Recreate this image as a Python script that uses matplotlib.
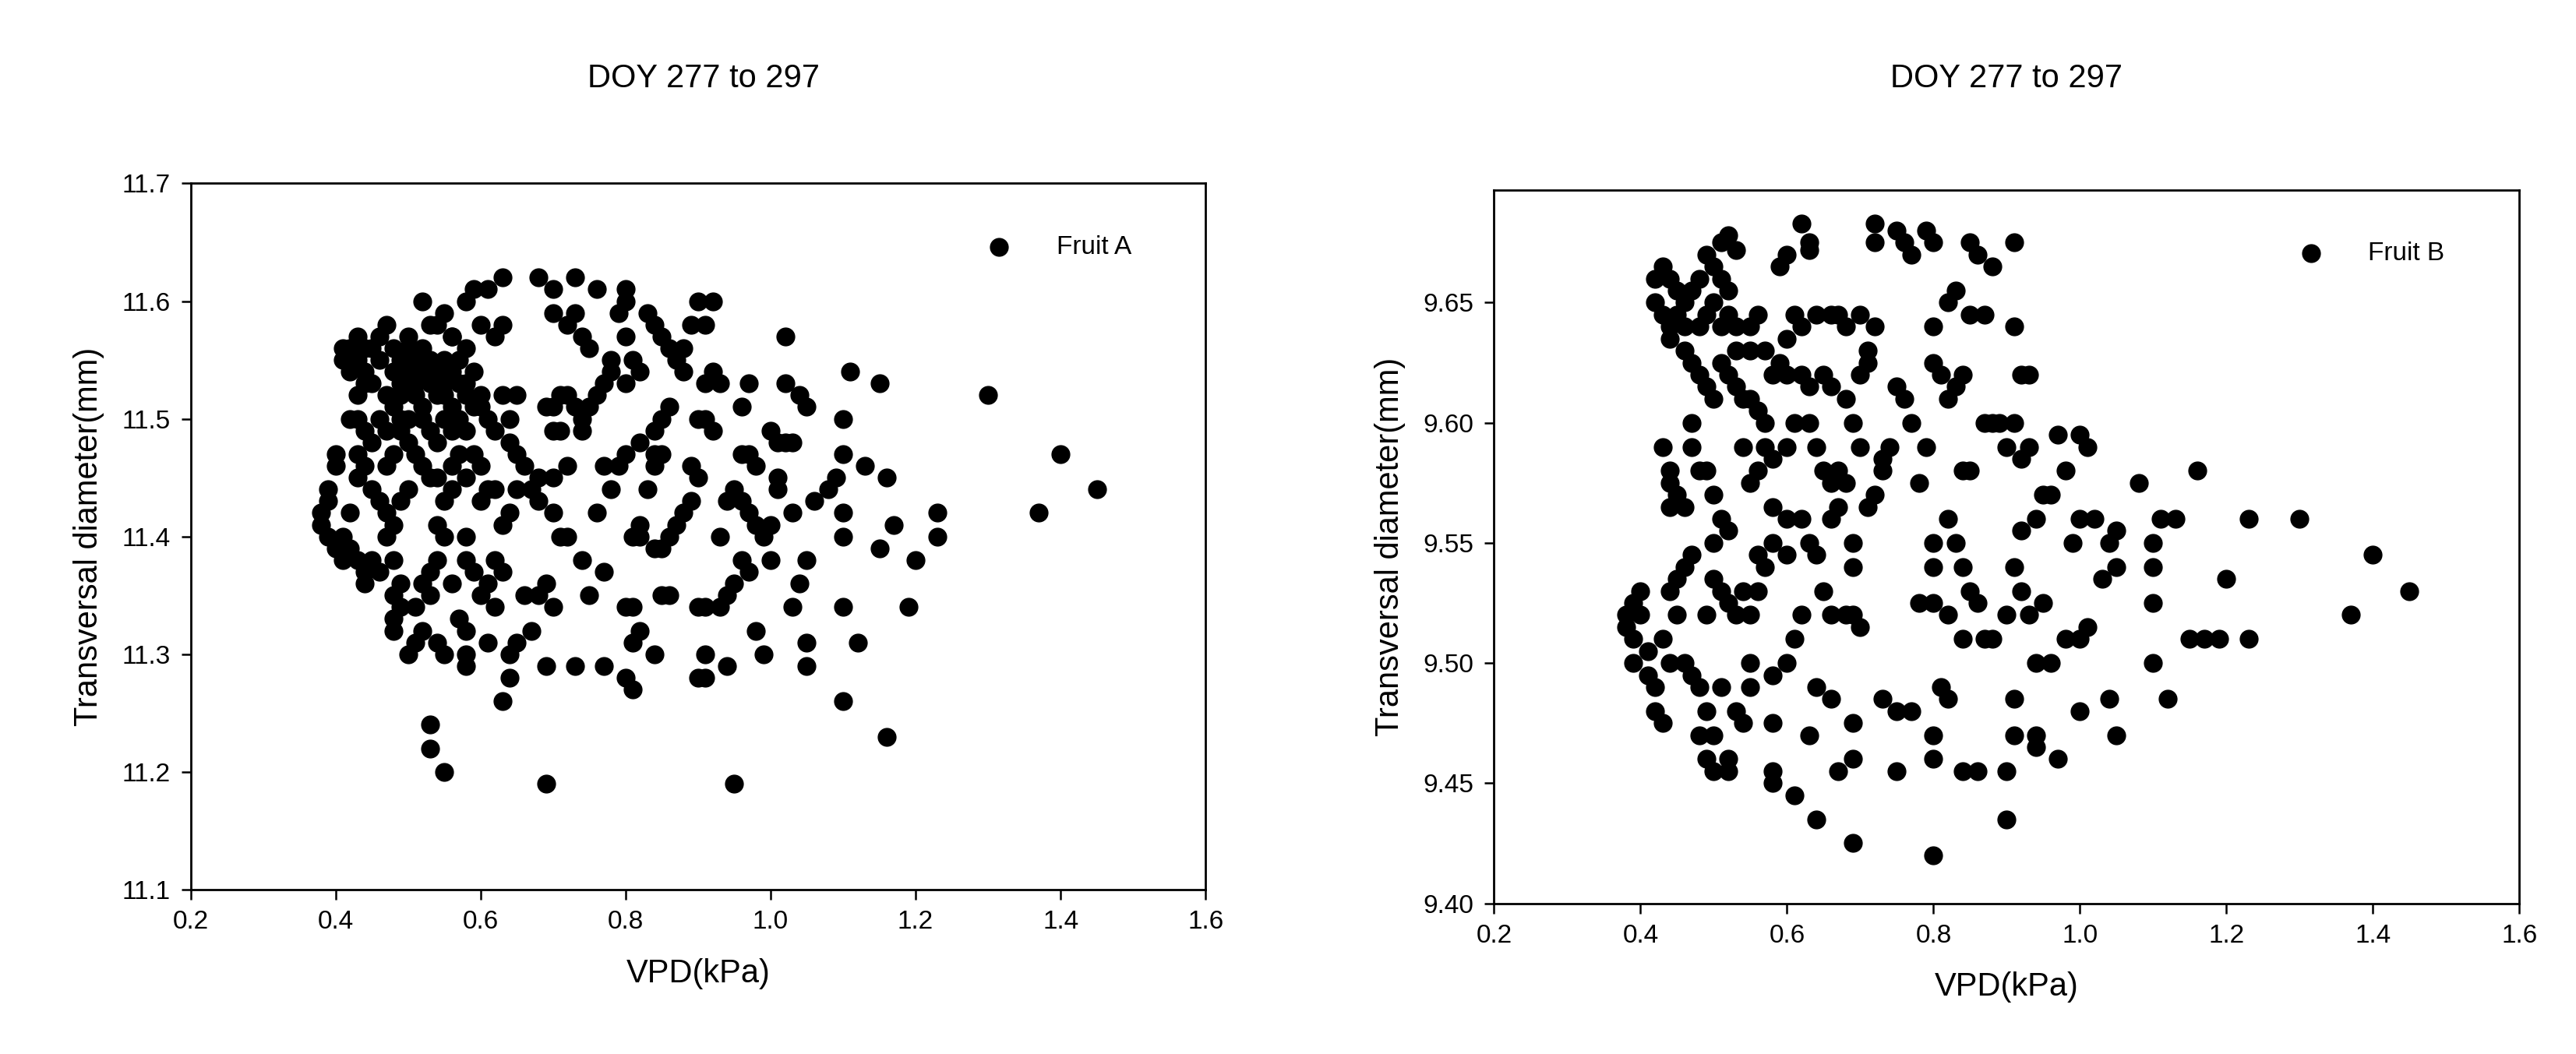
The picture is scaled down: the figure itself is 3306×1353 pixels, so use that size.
import matplotlib.pyplot as plt
import numpy as np

titles = ["DOY 277 to 297", "DOY 277 to 297"]
x_label = "VPD(kPa)"
y_label = "Transversal diameter(mm)"
legend_labels = ["Fruit A", "Fruit B"]

points_a = [
    (0.52,11.60),(0.53,11.58),(0.55,11.59),(0.56,11.57),(0.58,11.60),(0.59,11.61),(0.60,11.58),(0.61,11.61),
    (0.63,11.62),(0.63,11.58),(0.62,11.57),(0.68,11.62),(0.70,11.61),(0.70,11.59),(0.73,11.62),(0.73,11.59),
    (0.72,11.58),(0.74,11.57),(0.75,11.56),(0.76,11.61),(0.78,11.55),(0.79,11.59),(0.80,11.61),(0.80,11.60),
    (0.80,11.57),(0.81,11.55),(0.82,11.54),(0.83,11.59),(0.84,11.58),(0.85,11.57),(0.86,11.56),(0.87,11.55),
    (0.88,11.54),(0.88,11.56),(0.89,11.58),(0.90,11.60),(0.91,11.58),(0.92,11.60),(0.91,11.53),(0.92,11.54),
    (0.93,11.53),(0.97,11.53),(1.02,11.57),(1.02,11.53),(1.04,11.52),(1.05,11.51),(1.11,11.54),(1.15,11.53),
    (1.30,11.52),(1.40,11.47),(1.45,11.44),(1.37,11.42),
    (1.10,11.50),(1.10,11.47),(1.13,11.46),(1.16,11.45),(1.10,11.42),(1.10,11.40),(1.17,11.41),(1.23,11.42),
    (1.23,11.40),(1.15,11.39),(1.20,11.38),(1.19,11.34),(1.10,11.34),(1.12,11.31),(1.10,11.26),(1.16,11.23),
    (1.05,11.38),(1.04,11.36),(1.03,11.34),(1.05,11.31),(1.05,11.29),(1.06,11.43),(1.08,11.44),(1.09,11.45),
    (1.00,11.49),(1.01,11.48),(1.02,11.48),(1.03,11.48),(1.01,11.45),(1.01,11.44),(1.00,11.41),(1.00,11.38),
    (0.99,11.40),(0.98,11.41),(1.03,11.42),(0.96,11.51),(0.96,11.47),(0.97,11.47),(0.98,11.46),(0.95,11.44),
    (0.94,11.43),(0.96,11.43),(0.97,11.42),(0.93,11.40),(0.96,11.38),(0.97,11.37),(0.95,11.36),(0.94,11.35),
    (0.93,11.34),(0.91,11.34),(0.90,11.34),(0.98,11.32),(0.99,11.30),(0.94,11.29),(0.91,11.30),(0.91,11.28),
    (0.90,11.28),(0.95,11.19),
    (0.90,11.50),(0.91,11.50),(0.92,11.49),(0.89,11.46),(0.90,11.45),(0.89,11.43),(0.88,11.42),(0.87,11.41),
    (0.86,11.40),(0.85,11.39),(0.84,11.39),(0.82,11.40),(0.81,11.40),(0.82,11.41),(0.83,11.44),(0.84,11.46),
    (0.85,11.47),(0.84,11.49),(0.85,11.50),(0.86,11.51),(0.84,11.47),(0.82,11.48),(0.80,11.47),(0.79,11.46),
    (0.77,11.46),(0.78,11.44),(0.76,11.42),(0.80,11.53),(0.78,11.54),(0.77,11.53),(0.76,11.52),(0.75,11.51),
    (0.74,11.50),(0.73,11.51),(0.72,11.52),(0.71,11.52),(0.70,11.51),(0.69,11.51),(0.70,11.49),(0.71,11.49),
    (0.74,11.49),(0.72,11.46),(0.70,11.45),(0.68,11.45),(0.67,11.44),(0.68,11.43),(0.70,11.42),(0.71,11.40),
    (0.72,11.40),(0.74,11.38),(0.77,11.37),(0.75,11.35),(0.80,11.34),(0.81,11.34),(0.81,11.31),(0.82,11.32),
    (0.84,11.30),(0.85,11.35),(0.86,11.35),(0.80,11.28),(0.81,11.27),(0.77,11.29),(0.73,11.29),(0.69,11.29),
    (0.69,11.19),(0.70,11.34),(0.69,11.36),(0.68,11.35),(0.66,11.35),(0.67,11.32),(0.65,11.31),(0.64,11.30),
    (0.64,11.28),(0.63,11.26),(0.62,11.34),(0.61,11.31),(0.60,11.35),(0.61,11.36),(0.62,11.38),(0.63,11.37),
    (0.63,11.41),(0.64,11.42),(0.65,11.44),(0.66,11.46),(0.65,11.47),(0.64,11.48),(0.62,11.49),(0.61,11.50),
    (0.60,11.51),(0.63,11.52),(0.64,11.50),(0.65,11.52),(0.60,11.46),(0.61,11.44),(0.62,11.44),(0.60,11.43),
    (0.58,11.45),(0.59,11.47),(0.58,11.49),(0.57,11.50),(0.56,11.51),(0.55,11.52),(0.58,11.53),(0.59,11.54),
    (0.58,11.40),(0.58,11.38),(0.59,11.37),(0.57,11.33),(0.58,11.32),(0.58,11.29),(0.58,11.30),(0.56,11.36),
    (0.55,11.30),(0.54,11.31),(0.55,11.20),(0.53,11.22),(0.53,11.24),
    (0.38,11.42),(0.38,11.41),(0.39,11.43),(0.39,11.44),(0.40,11.46),(0.40,11.47),(0.39,11.40),(0.40,11.39),
    (0.41,11.40),(0.41,11.38),(0.42,11.39),(0.42,11.42),(0.43,11.38),(0.44,11.37),(0.44,11.36),(0.45,11.38),
    (0.46,11.37),(0.47,11.40),(0.48,11.38),(0.48,11.35),(0.48,11.33),(0.49,11.34),(0.48,11.32),(0.49,11.36),
    (0.50,11.30),(0.51,11.31),(0.52,11.32),(0.51,11.34),(0.52,11.36),(0.53,11.37),(0.53,11.35),(0.54,11.38),
    (0.55,11.40),(0.54,11.41),(0.55,11.43),(0.56,11.44),(0.54,11.45),(0.53,11.45),(0.52,11.46),(0.50,11.44),
    (0.49,11.43),(0.48,11.41),(0.47,11.42),(0.46,11.43),(0.45,11.44),(0.44,11.46),(0.43,11.47),(0.43,11.45),
    (0.44,11.49),(0.45,11.48),(0.42,11.50),(0.43,11.50),(0.47,11.46),(0.48,11.47),(0.50,11.48),(0.51,11.47),
    (0.49,11.49),(0.50,11.50),(0.52,11.50),(0.53,11.49),(0.54,11.48),(0.55,11.50),(0.56,11.49),(0.57,11.47),
    (0.56,11.46),
    (0.41,11.56),(0.41,11.55),(0.42,11.54),(0.42,11.56),(0.43,11.55),(0.43,11.57),(0.44,11.56),(0.44,11.54),
    (0.45,11.53),(0.45,11.56),(0.46,11.55),(0.46,11.57),(0.47,11.58),(0.47,11.52),(0.48,11.51),(0.48,11.54),
    (0.48,11.56),(0.49,11.55),(0.49,11.53),(0.49,11.52),(0.50,11.54),(0.50,11.56),(0.50,11.57),(0.51,11.55),
    (0.51,11.53),(0.51,11.52),(0.52,11.54),(0.52,11.51),(0.52,11.56),(0.53,11.53),(0.53,11.55),(0.54,11.52),
    (0.54,11.54),(0.55,11.53),(0.55,11.55),(0.56,11.54),(0.57,11.53),(0.57,11.55),(0.58,11.52),(0.59,11.51),
    (0.60,11.52),(0.58,11.56),(0.56,11.57),(0.54,11.58),(0.46,11.50),(0.47,11.49),(0.49,11.50),(0.43,11.52),
    (0.44,11.53),
]

points_b = [
    (0.38,9.52),(0.38,9.515),(0.39,9.525),(0.39,9.51),(0.39,9.50),(0.40,9.53),(0.40,9.52),(0.41,9.505),
    (0.41,9.495),(0.42,9.49),(0.42,9.48),(0.43,9.475),(0.43,9.51),(0.44,9.53),(0.44,9.50),(0.45,9.535),
    (0.45,9.52),(0.46,9.54),(0.47,9.545),(0.46,9.50),(0.47,9.495),(0.48,9.49),(0.48,9.47),(0.49,9.46),
    (0.49,9.48),(0.50,9.455),(0.50,9.47),(0.51,9.49),(0.52,9.455),(0.52,9.46),(0.53,9.48),(0.54,9.475),
    (0.55,9.49),(0.55,9.50),(0.58,9.455),(0.58,9.45),(0.58,9.475),(0.58,9.495),(0.61,9.445),(0.64,9.435),
    (0.63,9.47),(0.64,9.49),(0.66,9.485),(0.67,9.455),(0.69,9.46),(0.69,9.475),(0.69,9.425),(0.73,9.485),
    (0.75,9.455),(0.75,9.48),(0.77,9.48),(0.80,9.42),(0.80,9.47),(0.80,9.46),(0.81,9.49),(0.82,9.485),
    (0.84,9.455),(0.86,9.455),(0.90,9.435),(0.90,9.455),(0.91,9.47),(0.94,9.465),(0.94,9.47),(0.97,9.46),
    (1.00,9.48),(1.04,9.485),(1.05,9.47),(1.10,9.50),(1.12,9.485),(1.10,9.525),(1.15,9.51),(1.17,9.51),
    (1.19,9.51),(1.23,9.51),(1.20,9.535),(1.23,9.56),(1.30,9.56),(1.37,9.52),(1.40,9.545),(1.45,9.53),
    (1.11,9.56),(1.13,9.56),(1.16,9.58),(1.10,9.54),(1.10,9.55),(1.08,9.575),(1.05,9.555),(1.05,9.54),
    (1.04,9.55),(1.03,9.535),(1.02,9.56),(1.01,9.59),(1.00,9.595),(1.00,9.56),(0.99,9.55),(0.98,9.58),
    (0.97,9.595),(0.96,9.57),(0.95,9.57),(0.94,9.56),(0.93,9.59),(0.92,9.555),(0.91,9.54),(0.90,9.52),
    (0.92,9.53),(0.93,9.52),(0.95,9.525),(0.98,9.51),(1.00,9.51),(1.01,9.515),(0.96,9.50),(0.94,9.50),
    (0.91,9.485),(0.88,9.51),(0.87,9.51),(0.86,9.525),(0.85,9.53),(0.84,9.54),(0.83,9.55),(0.82,9.56),
    (0.80,9.55),(0.80,9.54),(0.78,9.525),(0.80,9.525),(0.82,9.52),(0.84,9.51),(0.85,9.58),(0.84,9.58),
    (0.87,9.60),(0.88,9.60),(0.89,9.60),(0.90,9.59),(0.91,9.60),(0.92,9.585),(0.92,9.62),(0.93,9.62),
    (0.91,9.64),(0.91,9.675),(0.88,9.665),(0.86,9.67),(0.85,9.675),(0.87,9.645),(0.85,9.645),(0.84,9.62),
    (0.83,9.615),(0.82,9.61),(0.81,9.62),(0.80,9.625),(0.80,9.64),(0.82,9.65),(0.83,9.655),(0.80,9.675),
    (0.79,9.68),(0.77,9.67),(0.76,9.675),(0.75,9.68),(0.72,9.683),(0.72,9.675),(0.75,9.615),(0.76,9.61),
    (0.77,9.60),(0.78,9.575),(0.79,9.59),(0.74,9.59),(0.73,9.585),(0.73,9.58),(0.72,9.57),(0.71,9.565),
    (0.70,9.59),(0.69,9.60),(0.70,9.62),(0.71,9.625),(0.71,9.63),(0.72,9.64),(0.70,9.645),(0.68,9.64),
    (0.67,9.645),(0.66,9.645),(0.64,9.645),(0.62,9.64),(0.61,9.645),(0.60,9.635),(0.59,9.625),(0.58,9.62),
    (0.60,9.62),(0.62,9.62),(0.63,9.615),(0.65,9.62),(0.66,9.615),(0.68,9.61),(0.63,9.672),(0.62,9.683),
    (0.63,9.675),(0.59,9.665),(0.60,9.67),(0.63,9.60),(0.64,9.59),(0.65,9.58),(0.66,9.575),(0.67,9.58),
    (0.68,9.575),(0.67,9.565),(0.66,9.56),(0.69,9.55),(0.69,9.54),(0.68,9.52),(0.69,9.52),(0.70,9.515),
    (0.66,9.52),(0.65,9.53),(0.64,9.545),(0.63,9.55),(0.62,9.56),(0.62,9.52),(0.61,9.51),(0.60,9.50),
    (0.60,9.545),(0.60,9.56),(0.58,9.565),(0.58,9.55),(0.57,9.54),(0.56,9.545),(0.56,9.53),(0.55,9.52),
    (0.54,9.53),(0.53,9.52),(0.52,9.525),(0.51,9.53),(0.50,9.535),(0.49,9.52),(0.50,9.55),(0.51,9.56),
    (0.52,9.555),(0.50,9.57),(0.49,9.58),(0.48,9.58),(0.47,9.59),(0.46,9.565),(0.45,9.57),(0.44,9.575),
    (0.44,9.565),(0.43,9.59),(0.44,9.58),(0.54,9.59),(0.55,9.575),(0.56,9.58),(0.57,9.59),(0.58,9.585),
    (0.60,9.59),(0.61,9.60),(0.57,9.60),(0.56,9.605),(0.55,9.61),(0.54,9.61),(0.53,9.615),(0.52,9.62),
    (0.51,9.625),(0.50,9.61),(0.49,9.615),(0.48,9.62),(0.47,9.625),(0.46,9.63),(0.47,9.60),(0.51,9.64),
    (0.52,9.645),(0.53,9.64),(0.55,9.64),(0.56,9.645),(0.57,9.63),(0.55,9.63),(0.53,9.63),(0.52,9.655),
    (0.51,9.66),(0.50,9.665),(0.51,9.675),(0.52,9.678),(0.53,9.672),(0.49,9.67),(0.48,9.66),(0.47,9.655),
    (0.46,9.65),(0.45,9.655),(0.44,9.66),(0.43,9.665),(0.42,9.66),(0.42,9.65),(0.43,9.645),(0.44,9.64),
    (0.45,9.645),(0.44,9.635),(0.46,9.64),(0.48,9.64),(0.49,9.645),(0.50,9.65),
]

x_ticks = [0.2, 0.4, 0.6, 0.8, 1.0, 1.2, 1.4, 1.6]
y_ticks_a = [11.1, 11.2, 11.3, 11.4, 11.5, 11.6, 11.7]
y_ticks_b = [9.40, 9.45, 9.50, 9.55, 9.60, 9.65]

plt.rcParams['font.family'] = ['Liberation Sans', 'DejaVu Sans']
fig = plt.figure(figsize=(33.06, 13.53), dpi=100)
ax_a = fig.add_axes([0.074, 0.156, 0.394, 0.670])
ax_b = fig.add_axes([0.580, 0.143, 0.398, 0.677])

panels = [
    (ax_a, points_a, (11.1, 11.7), y_ticks_a, "%.1f"),
    (ax_b, points_b, (9.40, 9.697), y_ticks_b, "%.2f"),
]
for i, (ax, pts, ylim, yt, fmt) in enumerate(panels):
    arr = np.array(pts)
    ax.scatter(arr[:, 0], arr[:, 1], s=270, color="black", label=legend_labels[i], zorder=3)
    ax.set_xlim(0.2, 1.6)
    ax.set_ylim(*ylim)
    ax.set_xticks(x_ticks)
    ax.set_xticklabels(["%.1f" % v for v in x_ticks])
    ax.set_yticks(yt)
    ax.set_yticklabels([fmt % v for v in yt])
    ax.tick_params(labelsize=24, length=9, width=1.8, direction="out", pad=10)
    ax.set_xlabel(x_label, fontsize=30, labelpad=22)
    ax.set_ylabel(y_label, fontsize=30, labelpad=16)
    for sp in ax.spines.values():
        sp.set_linewidth(2)
    ax.legend(loc="upper right", frameon=False, fontsize=24, handletextpad=1.2,
              bbox_to_anchor=(0.95, 0.96))
    fig.text(0.273 if i == 0 else 0.779, 0.925, titles[i], ha="center", va="center", fontsize=30)

fig.savefig("out.png", dpi=100)
